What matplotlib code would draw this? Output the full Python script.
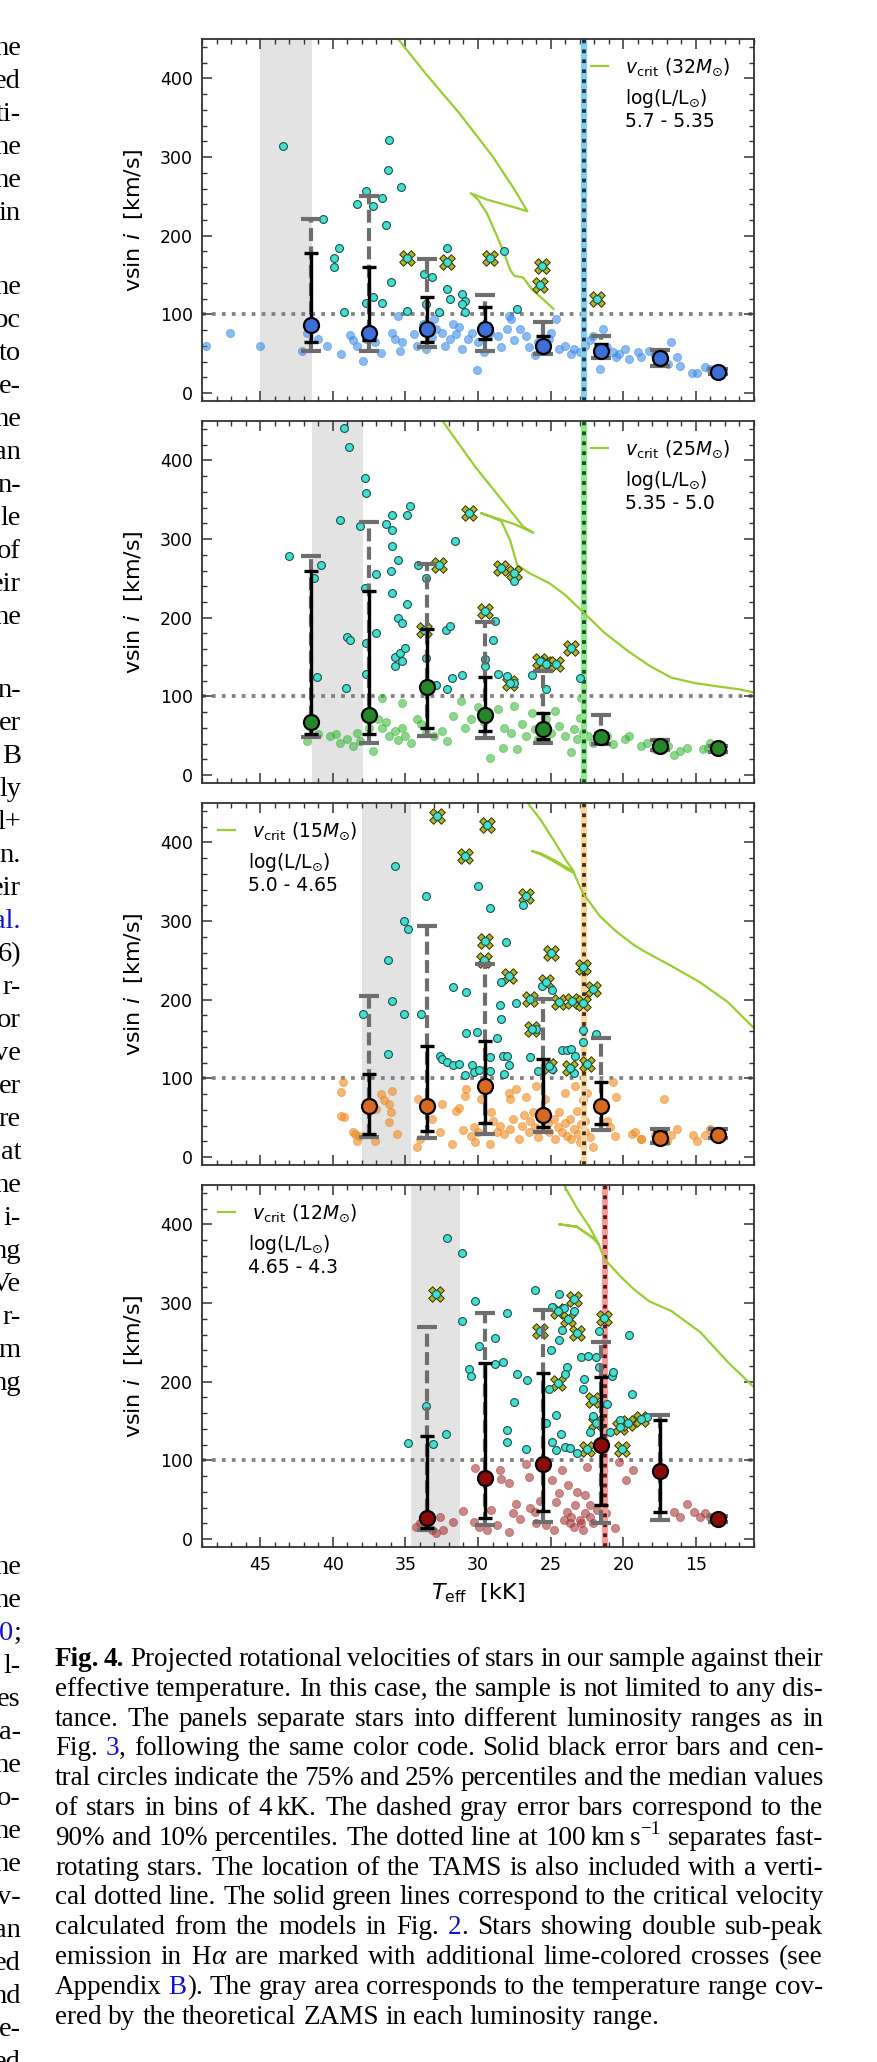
import matplotlib
matplotlib.use("Agg")
import matplotlib.pyplot as plt
from matplotlib.ticker import MultipleLocator
from matplotlib.transforms import IdentityTransform
from matplotlib.font_manager import FontProperties

# bin centres (4 kK bins)
BINS = [41.5, 37.5, 33.5, 29.5, 25.5, 21.5, 17.5, 13.5]

# ---------------- panel 1 : log L 5.7 - 5.35 ----------------
p1_fast_t = [43.4, 40.7, 39.6, 39.9, 39.9, 39.2, 38.3, 37.7, 37.2, 36.6, 36.3, 36.1, 36.2, 35.3,
             36.0, 37.7, 37.2, 36.6, 34.9, 32.1, 33.7, 33.2, 33.6, 32.7, 32.1, 31.9, 31.1, 30.9,
             31.1, 30.9, 28.2, 27.3]
p1_fast_v = [314, 221, 184, 172, 160, 103, 240, 257, 238, 248, 214, 322, 283, 262,
             141, 115, 122, 115, 105, 185, 151, 147, 113, 103, 132, 119, 126, 117,
             113, 103, 181, 107]
p1_cross_t = [34.9, 32.1, 29.2, 25.6, 25.7, 21.8]
p1_cross_v = [172, 166, 172, 162, 138, 119]
p1_slow_t = [48.7, 47.1, 45.0, 42.1, 41.8, 41.0, 40.4, 39.4, 38.8, 38.6, 38.3, 37.9, 37.7, 37.1,
             36.7, 35.9, 35.7, 35.4, 35.5, 35.2, 34.4, 34.2, 33.8, 33.6, 33.2, 33.0, 32.9, 32.5,
             32.3, 31.9, 31.7, 31.5, 31.3, 31.1, 30.7, 30.4, 30.1, 30.0, 29.6, 29.2, 28.6, 28.4,
             28.0, 27.7, 27.9, 27.5, 27.1, 26.7, 26.5, 26.1, 25.9, 25.1, 25.0, 24.6, 24.4, 24.0,
             23.6, 23.4, 23.0, 22.6, 22.3, 22.1, 21.4, 21.6, 21.1, 20.7, 20.5, 20.3, 19.9, 19.6,
             19.0, 18.8, 18.2, 17.8, 16.9, 16.7, 16.3, 16.1, 15.3, 14.9, 14.4, 14.0, 13.4]
p1_slow_v = [60, 76, 60, 54, 77, 69, 60, 50, 74, 67, 60, 41, 69, 65,
             51, 77, 69, 54, 98, 65, 75, 60, 88, 56, 71, 94, 81, 77,
             60, 69, 88, 75, 84, 56, 69, 77, 30, 65, 52, 77, 73, 58,
             81, 94, 98, 67, 81, 73, 58, 48, 65, 69, 77, 94, 56, 60,
             50, 56, 52, 60, 67, 73, 81, 31, 58, 52, 46, 50, 56, 44,
             52, 46, 54, 48, 37, 65, 46, 35, 25, 25, 33, 31, 27]
p1_med = [86, 76, 82, 81, 60, 53, 45, 27]
p1_p25 = [65, 68, 65, 69, 55, 48, 40, 25]
p1_p75 = [178, 160, 122, 109, 72, 62, 50, 30]
p1_p10 = [53, 53, 58, 54, 50, 45, 35, 24]
p1_p90 = [221, 251, 171, 125, 91, 72, 55, 31]
p1_vcrit_t = [35.7, 35.5, 33.6, 31.3, 29.0, 27.5, 26.6, 27.1, 29.4, 30.5, 30.0, 29.4, 28.8, 28.2,
              27.8, 27.5, 26.9, 26.3, 25.5, 24.8]
p1_vcrit_v = [460, 450, 406, 356, 301, 259, 231, 234, 246, 254, 246, 229, 204, 178,
              157, 149, 147, 132, 119, 107]
p1_tams = 22.7
p1_zams = (41.4, 45.0)

# ---------------- panel 2 : log L 5.35 - 5.0 ----------------
p2_fast_t = [43.0, 40.8, 41.3, 41.1, 39.2, 38.9, 39.5, 39.0, 38.8, 39.1, 38.1, 37.8, 37.7, 37.8,
             37.7, 37.7, 37.0, 37.0, 36.3, 35.9, 35.9, 35.9, 35.5, 36.0, 35.9, 35.5, 34.9, 35.2,
             35.7, 35.4, 35.0, 35.2, 35.7, 34.9, 34.7, 34.1, 33.6, 33.6, 32.9, 32.2, 31.9, 32.1,
             31.8, 31.1, 31.6, 28.8, 29.0, 29.5, 29.5, 28.6, 27.5, 28.0, 27.5, 26.3, 25.3, 23.0]
p2_fast_v = [278, 267, 251, 125, 441, 417, 324, 176, 172, 111, 317, 377, 358, 238,
             168, 128, 256, 181, 319, 331, 312, 291, 274, 260, 232, 200, 217, 193,
             150, 155, 162, 145, 139, 331, 342, 267, 251, 149, 115, 185, 189, 109,
             124, 127, 298, 196, 172, 147, 139, 129, 247, 126, 117, 127, 110, 123]
p2_cross_t = [32.7, 33.7, 30.6, 29.5, 28.4, 27.5, 27.8, 25.7, 25.3, 24.6, 23.6]
p2_cross_v = [267, 184, 333, 208, 263, 257, 117, 145, 141, 141, 162]
p2_slow_t = [40.2, 39.8, 39.5, 39.0, 38.6, 38.3, 38.1, 37.5, 37.2, 36.9, 36.6, 36.3, 36.1, 35.7,
             35.5, 35.2, 35.0, 34.6, 34.2, 33.9, 33.6, 33.0, 32.5, 32.1, 31.7, 31.2, 30.9, 30.5,
             30.0, 29.6, 29.2, 28.6, 28.3, 28.2, 27.7, 27.5, 27.3, 27.0, 26.7, 26.3, 26.1, 25.9,
             25.3, 25.0, 24.7, 24.4, 24.0, 23.6, 23.4, 23.2, 22.8, 22.9, 23.0, 22.4, 22.1, 21.1,
             20.7, 19.9, 19.6, 18.8, 18.4, 17.8, 16.9, 16.5, 16.1, 15.6, 14.5, 14.2, 14.0, 36.6,
             35.2, 41.0, 41.8]
p2_slow_v = [50, 52, 41, 46, 37, 54, 44, 60, 31, 71, 60, 67, 50, 56,
             45, 60, 50, 41, 71, 65, 54, 50, 56, 44, 75, 94, 60, 71,
             86, 67, 22, 84, 35, 60, 54, 88, 33, 65, 50, 79, 58, 46,
             71, 54, 82, 63, 50, 29, 58, 46, 54, 98, 73, 50, 41, 50,
             39, 46, 50, 37, 41, 33, 37, 25, 31, 35, 33, 35, 41, 98,
             92, 52, 44]
p2_med = [68, 77, 112, 77, 58, 48, 37, 34]
p2_p25 = [52, 52, 60, 56, 46, 41, 33, 31]
p2_p75 = [260, 234, 186, 125, 79, 54, 42, 36]
p2_p10 = [48, 41, 50, 47, 41, 40, 32, 30]
p2_p90 = [278, 322, 268, 194, 132, 76, 45, 37]
p2_vcrit_t = [32.7, 32.4, 30.2, 28.2, 26.9, 26.2, 27.5, 29.8, 28.4, 27.8, 27.3, 26.5, 25.1, 24.0,
              22.7, 21.3, 19.7, 18.2, 16.7, 15.1, 13.6, 12.0, 11.0]
p2_vcrit_v = [460, 449, 392, 346, 316, 308, 319, 333, 323, 299, 267, 257, 244, 229,
              206, 181, 158, 139, 124, 117, 113, 109, 105]
p2_tams = 22.7
p2_zams = (37.9, 41.4)

# ---------------- panel 3 : log L 5.0 - 4.65 ----------------
p3_fast_t = [35.7, 33.6, 30.0, 29.2, 26.9, 35.1, 34.8, 36.2, 28.1, 28.4, 31.7, 30.8, 25.6, 24.9,
             35.9, 37.9, 35.1, 33.9, 27.4, 28.5, 28.4, 26.0, 30.8, 30.1, 28.7, 22.8, 21.9, 22.8,
             32.6, 32.5, 32.1, 31.7, 31.3, 30.4, 30.3, 30.9, 29.9, 29.2, 29.2, 28.3, 28.0, 27.9,
             28.2, 26.4, 25.9, 24.9, 24.2, 23.9, 23.6, 23.3, 23.4, 36.2]
p3_fast_v = [370, 332, 345, 317, 320, 300, 290, 251, 273, 223, 216, 210, 218, 213,
             199, 182, 182, 182, 196, 193, 176, 163, 158, 159, 151, 161, 157, 146,
             128, 125, 121, 117, 118, 117, 108, 104, 111, 127, 109, 128, 128, 117,
             106, 127, 110, 112, 136, 136, 138, 128, 107, 131]
p3_cross_t = [32.8, 29.4, 30.9, 26.7, 29.5, 29.6, 25.0, 27.9, 25.3, 22.8, 22.1, 26.4, 24.4, 23.5,
              22.8, 26.3, 25.1, 23.7, 22.5]
p3_cross_v = [433, 422, 383, 332, 275, 251, 259, 230, 223, 241, 214, 201, 197, 199,
              196, 163, 116, 113, 118]
p3_slow_t = [39.3, 39.4, 39.4, 38.5, 38.3, 38.2, 37.1, 37.0, 36.7, 36.5, 36.1, 36.0, 35.9, 36.1,
             35.6, 34.2, 34.1, 34.0, 33.2, 32.6, 32.5, 31.8, 31.5, 31.3, 31.0, 30.9, 30.8, 30.5,
             30.3, 30.2, 30.0, 29.8, 29.2, 29.1, 29.0, 28.7, 28.5, 28.2, 27.9, 27.8, 27.8, 27.6,
             27.4, 27.2, 27.0, 26.8, 26.7, 26.5, 26.4, 26.2, 26.0, 26.1, 25.9, 25.4, 25.2, 25.1,
             24.8, 24.7, 24.5, 24.4, 24.2, 24.0, 24.0, 23.9, 23.7, 23.6, 23.4, 23.3, 23.2, 23.1,
             23.0, 22.9, 22.8, 22.6, 22.6, 22.5, 22.3, 22.1, 21.1, 20.9, 20.7, 20.6, 20.5, 19.4,
             18.8, 19.2, 18.8, 17.8, 17.2, 17.0, 16.7, 16.3, 15.2, 14.9, 14.4, 14.0, 39.2, 38.6]
p3_slow_v = [95, 83, 52, 30, 21, 27, 21, 61, 80, 72, 68, 57, 84, 45,
             30, 13, 74, 23, 49, 32, 68, 17, 59, 62, 34, 78, 87, 27,
             38, 19, 32, 74, 17, 57, 46, 32, 40, 30, 82, 74, 36, 49,
             87, 23, 40, 53, 76, 32, 46, 57, 91, 38, 25, 74, 44, 32,
             49, 23, 38, 57, 32, 82, 44, 27, 49, 23, 36, 91, 59, 30,
             19, 42, 72, 46, 32, 82, 25, 13, 46, 38, 95, 27, 76, 30,
             23, 32, 23, 28, 74, 21, 28, 36, 28, 21, 28, 36, 51, 32]
p3_med = [65, 65, 90, 54, 65, 24, 28]
p3_p25 = [30, 33, 44, 38, 42, 20, 25]
p3_p75 = [106, 141, 148, 125, 95, 32, 33]
p3_p10 = [26, 24, 30, 32, 35, 18, 24]
p3_p90 = [205, 294, 245, 201, 151, 36, 36]
p3_vcrit_t = [26.8, 26.5, 25.7, 24.8, 23.9, 23.4, 23.9, 24.8, 25.7, 26.3, 25.7, 24.8, 23.9, 23.4,
              22.8, 21.6, 20.5, 19.3, 18.6, 16.7, 14.7, 12.8, 11.0]
p3_vcrit_v = [460, 448, 429, 403, 376, 363, 368, 378, 386, 389, 385, 376, 366, 361,
              336, 306, 287, 270, 262, 243, 222, 197, 164]
p3_tams = 22.7
p3_zams = (34.6, 38.0)

# ---------------- panel 4 : log L 4.65 - 4.3 ----------------
p4_fast_t = [32.1, 31.1, 31.1, 30.2, 29.9, 30.6, 30.5, 28.8, 28.8, 28.3, 28.0, 27.3, 26.6, 27.5,
             28.0, 28.0, 26.7, 26.1, 25.3, 25.0, 24.6, 24.3, 24.9, 24.6, 25.1, 23.9, 24.0, 24.4,
             24.2, 24.4, 24.9, 24.1, 23.4, 24.0, 23.7, 23.2, 22.9, 22.4, 21.9, 21.7, 22.7, 22.8,
             22.1, 22.3, 21.7, 21.1, 20.8, 20.7, 20.9, 19.6, 19.4, 20.2, 18.4, 34.8, 33.6, 33.1,
             32.2]
p4_fast_v = [383, 364, 277, 302, 245, 216, 207, 255, 223, 225, 287, 210, 202, 174,
             139, 123, 114, 317, 147, 240, 158, 133, 123, 113, 191, 219, 210, 253,
             266, 311, 295, 294, 290, 117, 116, 109, 231, 233, 232, 219, 204, 191,
             157, 136, 264, 172, 207, 213, 136, 260, 185, 151, 155, 122, 169, 121,
             133]
p4_cross_t = [32.9, 25.7, 24.5, 24.5, 23.8, 23.4, 23.2, 22.1, 21.9, 22.5, 21.3, 20.2, 20.1, 19.7,
              18.8]
p4_cross_v = [312, 265, 198, 290, 280, 305, 262, 177, 147, 115, 281, 142, 115, 148,
              153]
p4_slow_t = [34.3, 34.0, 33.2, 32.9, 32.6, 32.4, 31.7, 31.0, 30.3, 30.2, 29.9, 29.4, 29.1, 28.7,
             28.5, 28.4, 27.9, 27.6, 27.9, 27.4, 27.1, 26.7, 26.5, 26.4, 26.1, 26.0, 25.7, 25.3,
             24.9, 24.8, 24.6, 24.4, 24.2, 24.1, 23.9, 23.8, 23.7, 23.6, 23.4, 23.3, 23.2, 23.0,
             22.9, 22.8, 22.6, 22.6, 22.5, 22.3, 22.3, 22.1, 21.8, 21.2, 20.6, 20.3, 19.8, 19.3,
             16.5, 16.1, 15.6, 15.1, 14.7, 14.4, 14.0]
p4_slow_v = [16, 20, 11, 8, 28, 11, 22, 36, 22, 90, 16, 11, 37, 18,
             88, 77, 71, 33, 9, 45, 26, 96, 79, 39, 35, 20, 49, 18,
             75, 11, 47, 58, 88, 24, 35, 69, 20, 28, 16, 43, 60, 24,
             20, 11, 33, 56, 92, 43, 28, 21, 37, 33, 14, 98, 75, 88,
             35, 28, 45, 35, 28, 33, 28]
p4_med = [27, 78, 95, 120, 87, 25]
p4_p25 = [14, 27, 36, 43, 35, 23]
p4_p75 = [131, 224, 211, 206, 152, 28]
p4_p10 = [12, 18, 22, 21, 24, 22]
p4_p90 = [270, 287, 291, 251, 158, 30]
p4_vcrit_t = [24.2, 24.0, 23.2, 22.3, 21.7, 22.1, 23.2, 24.4, 23.2, 22.1, 21.7, 21.3, 20.2, 19.3,
              18.2, 16.7, 14.7, 12.8, 11.0]
p4_vcrit_v = [460, 447, 421, 396, 375, 383, 397, 400, 397, 383, 375, 356, 334, 318,
              302, 290, 263, 225, 193]
p4_tams = 21.25
p4_zams = (31.25, 34.6)

MASSES = ["32", "25", "15", "12"]
LUMS = ["5.7 - 5.35", "5.35 - 5.0", "5.0 - 4.65", "4.65 - 4.3"]

panels = [
    dict(ft=p1_fast_t, fv=p1_fast_v, ct=p1_cross_t, cv=p1_cross_v, st=p1_slow_t, sv=p1_slow_v,
         bins=BINS, med=p1_med, p25=p1_p25, p75=p1_p75, p10=p1_p10, p90=p1_p90,
         vt=p1_vcrit_t, vv=p1_vcrit_v, tams=p1_tams, zams=p1_zams,
         slow="#3c8ce6", salpha=0.6, medc="#3d6fd6", tl="#86cdea", td="#1c2f48"),
    dict(ft=p2_fast_t, fv=p2_fast_v, ct=p2_cross_t, cv=p2_cross_v, st=p2_slow_t, sv=p2_slow_v,
         bins=BINS, med=p2_med, p25=p2_p25, p75=p2_p75, p10=p2_p10, p90=p2_p90,
         vt=p2_vcrit_t, vv=p2_vcrit_v, tams=p2_tams, zams=p2_zams,
         slow="#32b432", salpha=0.55, medc="#24882a", tl="#8ee88e", td="#1d4a1d"),
    dict(ft=p3_fast_t, fv=p3_fast_v, ct=p3_cross_t, cv=p3_cross_v, st=p3_slow_t, sv=p3_slow_v,
         bins=BINS[1:], med=p3_med, p25=p3_p25, p75=p3_p75, p10=p3_p10, p90=p3_p90,
         vt=p3_vcrit_t, vv=p3_vcrit_v, tams=p3_tams, zams=p3_zams,
         slow="#f08a20", salpha=0.6, medc="#d9691f", tl="#fcd59a", td="#3d2b1a"),
    dict(ft=p4_fast_t, fv=p4_fast_v, ct=p4_cross_t, cv=p4_cross_v, st=p4_slow_t, sv=p4_slow_v,
         bins=BINS[2:], med=p4_med, p25=p4_p25, p75=p4_p75, p10=p4_p10, p90=p4_p90,
         vt=p4_vcrit_t, vv=p4_vcrit_v, tams=p4_tams, zams=p4_zams,
         slow="#a83a3a", salpha=0.6, medc="#8b0a0a", tl="#f79a9a", td="#4a1c1c"),
]

W, H = 877, 2062
fig = plt.figure(figsize=(W / 100, H / 100), dpi=100)
fig.patch.set_facecolor("white")

tops = [39, 421, 803, 1185]
for i, (p, top) in enumerate(zip(panels, tops)):
    ax = fig.add_axes([202 / W, 1 - (top + 362) / H, 552 / W, 362 / H])
    ax.axvspan(p["zams"][0], p["zams"][1], color="#808080", alpha=0.22, lw=0, zorder=0)
    ax.scatter(p["st"], p["sv"], s=34, color=p["slow"], alpha=p["salpha"], lw=0.6, zorder=1.8)
    ax.axvline(p["tams"], color=p["tl"], lw=4.5, zorder=2)
    ax.axvline(p["tams"], color=p["td"], ls=":", lw=2.7, zorder=2.1)
    ax.axhline(100, color="#808080", ls=":", lw=2.7, zorder=1.5)
    ax.plot(p["vt"], p["vv"], color="#9acd32", lw=1.6, zorder=2.5,
            label=r"$v_{\rm crit}$ (" + MASSES[i] + r"$M_{\odot}$)")
    ax.scatter(p["ct"], p["cv"], s=125, marker="X", color="#b5b52a", edgecolor="#303000",
               lw=0.7, zorder=3)
    ax.scatter(p["ft"] + p["ct"], p["fv"] + p["cv"], s=32, color="#40e0d0", edgecolor="#1f4f4f",
               lw=0.8, zorder=3.2)

    med = p["med"]
    lo = [m - q for m, q in zip(med, p["p10"])]
    hi = [q - m for m, q in zip(med, p["p90"])]
    eb = ax.errorbar(p["bins"], med, yerr=[lo, hi], fmt="none", ecolor="#6e6e6e",
                     elinewidth=3, capsize=7, capthick=3, zorder=4)
    eb.lines[2][0].set_linestyle((0, (3.1, 1.3)))
    lo = [m - q for m, q in zip(med, p["p25"])]
    hi = [q - m for m, q in zip(med, p["p75"])]
    ax.errorbar(p["bins"], med, yerr=[lo, hi], fmt="none", ecolor="k",
                elinewidth=2.4, capsize=4.7, capthick=2.4, zorder=5)
    ax.plot(p["bins"], med, "o", ms=10.8, mfc=p["medc"], mec="k", mew=1.6, zorder=6)

    ax.set_xlim(49, 11)
    ax.set_ylim(-10, 450)
    ax.xaxis.set_major_locator(MultipleLocator(5))
    ax.xaxis.set_minor_locator(MultipleLocator(1))
    ax.yaxis.set_major_locator(MultipleLocator(100))
    ax.yaxis.set_minor_locator(MultipleLocator(20))
    ax.tick_params(which="both", direction="in", top=True, right=True, color="#333333",
                   labelsize=12.5, pad=6.5)
    ax.tick_params(which="major", length=7.2, width=1.1)
    ax.tick_params(which="minor", length=3.6, width=1.0)
    for sp in ax.spines.values():
        sp.set_color("#333333")
        sp.set_linewidth(1.3)
    if i < 3:
        ax.tick_params(labelbottom=False)
    ax.set_ylabel(r"vsin $i$  [km/s]", fontsize=16)
    ax.yaxis.set_label_coords(-0.103, 0.5)

    lx = 0.705 if i < 2 else 0.029
    tx = 0.766 if i < 2 else 0.083
    ax.legend(loc="upper left", bbox_to_anchor=(lx, 0.952), frameon=False, fontsize=13.5,
              handlelength=0.9, handletextpad=0.9, borderpad=0, borderaxespad=0)
    ax.text(tx, 0.837, r"log(L/L$_{\odot}$)", transform=ax.transAxes, fontsize=13.5, va="center")
    ax.text(tx, 0.771, LUMS[i], transform=ax.transAxes, fontsize=13.5, va="center")

    if i == 3:
        ax.set_xlabel(r"$T_{\rm eff}$  [kK]", fontsize=16)
        ax.xaxis.set_label_coords(0.5, -0.095)

# ---------------- page text ----------------
SERIF = "Liberation Serif"
BLUE = "#1010d0"
ident = IdentityTransform()
rend = fig.canvas.get_renderer()
LSIZE = 20.5

# cut-off right edge of the neighbouring text column
left_blocks = [
    (48, ["ne", "ed", "ti-", "ne", "ne", "in"]),
    (287, ["ne", "oc", "to", "e-", "ne", "an", "n-", "le", "of", "eir", "ne"]),
    (690, ["n-", "er", "B", "ly", "l+", "n.", "eir", "al.", "6)", "r-", "or", "ve", "er", "re",
           "at", "ne", "i-", "ng", "Ve", "r-", "m", "ng"]),
    (1567, ["ne", "ne", "0;", "l-", "es", "a-", "ne", "o-", "ne", "ne", "v-", "an", "ed", "nd",
            "e-", "ed"]),
]
for y0, frags in left_blocks:
    for k, s in enumerate(frags):
        yb = H - (y0 + 33 * k + 7)
        if s == "al.":
            fig.text(21, yb, s, transform=ident, family=SERIF, fontsize=LSIZE, ha="right",
                     va="baseline", color=BLUE)
        elif s == "0;":
            t = fig.text(21, yb, ";", transform=ident, family=SERIF, fontsize=LSIZE, ha="right",
                         va="baseline")
            wsemi = t.get_window_extent(rend).width
            fig.text(21 - wsemi, yb, "0", transform=ident, family=SERIF, fontsize=LSIZE,
                     ha="right", va="baseline", color=BLUE)
        else:
            fig.text(21, yb, s, transform=ident, family=SERIF, fontsize=LSIZE, ha="right",
                     va="baseline")

CAPTION = [
    "b:Fig.|t:b:4. Projected rotational velocities of stars in our sample against their",
    "effective temperature. In this case, the sample is not limited to any dis-",
    "tance. The panels separate stars into different luminosity ranges as in",
    "Fig. c:3|, following the same color code. Solid black error bars and cen-",
    "tral circles indicate the 75% and 25% percentiles and the median values",
    "of stars in bins of 4|t:kK. The dashed gray error bars correspond to the",
    "90% and 10% percentiles. The dotted line at 100|t:km|t:s|s:\u22121 separates fast-",
    "rotating stars. The location of the TAMS is also included with a verti-",
    "cal dotted line. The solid green lines correspond to the critical velocity",
    "calculated from the models in Fig. c:2|. Stars showing double sub-peak",
    "emission in H|i:\u03b1 are marked with additional lime-colored crosses (see",
    "Appendix c:B|). The gray area corresponds to the temperature range cov-",
    "ered by the theoretical ZAMS in each luminosity range.",
]
CAP_X0, CAP_X1 = 55, 823
CAP_Y0, CAP_DY = 1666, 29.8


def parse_piece(piece, size):
    o = dict(size=size, weight="normal", style="normal", color="k", dx=0.0, dy=0.0)
    while len(piece) > 2 and piece[1] == ":" and piece[0] in "bcist":
        code, piece = piece[0], piece[2:]
        if code == "b":
            o["weight"] = "bold"
        elif code == "c":
            o["color"] = BLUE
        elif code == "i":
            o["style"] = "italic"
        elif code == "t":
            o["dx"] = 0.17 * size * 100 / 72
        elif code == "s":
            o["size"] = size * 0.7
            o["dy"] = 0.4 * size * 100 / 72
    return piece, o


def piece_width(s, o):
    fp = FontProperties(family=SERIF, size=o["size"], weight=o["weight"], style=o["style"])
    w, _, _ = rend.get_text_width_height_descent(s, fp, ismath=False)
    return w


def layout(size):
    lines = []
    for line in CAPTION:
        words = []
        for word in line.split(" "):
            pieces = []
            x = 0.0
            for pc in word.split("|"):
                s, o = parse_piece(pc, size)
                x += o["dx"]
                pieces.append((s, o, x))
                x += piece_width(s, o)
            words.append((pieces, x))
        lines.append(words)
    return lines


size = 19.5
while True:
    lines = layout(size)
    space = piece_width(" ", dict(size=size, weight="normal", style="normal"))
    need = max(sum(w for _, w in ws) + 0.8 * space * (len(ws) - 1) for ws in lines[:-1])
    if need <= CAP_X1 - CAP_X0 or size < 12:
        break
    size -= 0.25

for k, words in enumerate(lines):
    yb = H - (CAP_Y0 + CAP_DY * k)
    total = sum(w for _, w in words)
    if k < len(lines) - 1:
        gap = (CAP_X1 - CAP_X0 - total) / (len(words) - 1)
    else:
        gap = space
    x = CAP_X0
    for pieces, w in words:
        for s, o, off in pieces:
            fig.text(x + off, yb + o["dy"], s, transform=ident, family=SERIF, fontsize=o["size"],
                     weight=o["weight"], style=o["style"], color=o["color"], va="baseline")
        x += w + gap

fig.savefig("out.png", dpi=100)
